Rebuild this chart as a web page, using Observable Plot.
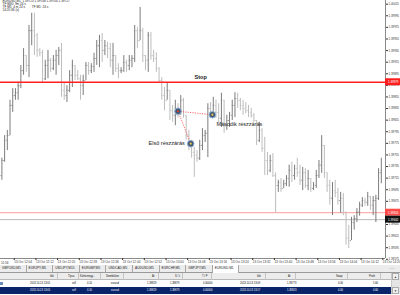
<!DOCTYPE html>
<html><head><meta charset="utf-8">
<script src="https://cdn.jsdelivr.net/npm/d3@7"></script>
<script src="https://cdn.jsdelivr.net/npm/@observablehq/plot@0.6"></script>
<style>
html,body{margin:0;padding:0;background:#fff;width:400px;height:295px;overflow:hidden;font-family:"Liberation Sans",Arial,sans-serif;}
#chart{position:absolute;left:0;top:0;width:400px;height:265px;}
#bottom{position:absolute;left:0;top:265px;width:400px;height:30px;background:#fff;}
.abs{position:absolute;white-space:nowrap;}
#tabs{position:absolute;left:0;top:0;width:400px;height:7px;background:#ececec;border-bottom:1px solid #9a9a9a;}
.tab{position:absolute;top:0;height:7px;border-right:1px solid #a8a8a8;font-size:3.2px;line-height:7px;color:#222;padding-left:2px;box-sizing:border-box;}
.tab.active{background:#fff;height:8px;}
#head{position:absolute;left:0;top:8px;width:400px;height:7px;background:#ececec;border-bottom:1px solid #b8b8b8;box-sizing:border-box;}
.row{position:absolute;left:0;width:400px;height:7px;}
.cell{position:absolute;top:0;font-size:2.6px;line-height:7px;white-space:nowrap;}
.sep{position:absolute;top:0;width:0;height:7px;border-left:1px solid #c4c4c4;}
</style></head><body>
<div id="chart"></div>
<div id="bottom">
  <div id="tabs"></div>
  <div id="head"></div>
  <div class="row" id="row1" style="top:15px;background:#fff;"></div>
  <div class="row" id="row2" style="top:22px;background:#0a246a;color:#fff;"></div>
</div>
<script>
// ---------------- DATA ----------------
const firstBar = "2013-10-13T12:00:00Z"; // EURUSD,M1, one bar per minute
const opens = [1.39718,1.39744,1.39779,1.39787,1.39839,1.39856,1.39861,1.39873,1.39899,1.39925,
1.39908,1.39968,1.39968,1.39960,1.39934,1.39930,1.39885,1.39908,1.39917,1.39903,
1.39917,1.39925,1.39934,1.39865,1.39856,1.39865,1.39891,1.39908,1.39891,1.39885,
1.39873,1.39882,1.39908,1.39899,1.39906,1.39920,1.39942,1.39951,1.39934,1.39942,
1.39937,1.39917,1.39925,1.39903,1.39899,1.39899,1.39913,1.39908,1.39917,1.39920,
1.39968,1.39951,1.39968,1.39925,1.39917,1.39960,1.39925,1.39920,1.39903,1.39882,
1.39856,1.39848,1.39865,1.39830,1.39822,1.39834,1.39827,1.39848,1.39822,1.39787,
1.39773,1.39758,1.39753,1.39748,1.39770,1.39787,1.39791,1.39834,1.39827,1.39839,
1.39827,1.39817,1.39848,1.39804,1.39813,1.39822,1.39839,1.39851,1.39848,1.39839,
1.39834,1.39830,1.39827,1.39822,1.39813,1.39779,1.39796,1.39765,1.39744,1.39727,
1.39744,1.39718,1.39701,1.39706,1.39696,1.39704,1.39713,1.39727,1.39718,1.39730,
1.39723,1.39710,1.39723,1.39701,1.39713,1.39696,1.39701,1.39718,1.39736,1.39770,
1.39723,1.39701,1.39679,1.39692,1.39689,1.39675,1.39679,1.39655,1.39610,1.39606,
1.39637,1.39644,1.39655,1.39667,1.39675,1.39672,1.39682,1.39667,1.39675,1.39679,
1.39723];
const highs = [1.39748,1.39787,1.39796,1.39848,1.39868,1.39868,1.39879,1.39908,1.39937,1.39925,
1.39977,1.39998,1.39998,1.39963,1.39937,1.39934,1.39917,1.39934,1.39920,1.39925,
1.39934,1.39939,1.39946,1.39877,1.39873,1.39899,1.39917,1.39908,1.39899,1.39891,
1.39891,1.39913,1.39913,1.39911,1.39929,1.39951,1.39960,1.39963,1.39951,1.39948,
1.39946,1.39946,1.39925,1.39911,1.39904,1.39925,1.39917,1.39925,1.39925,1.39977,
1.39973,1.40008,1.39972,1.39925,1.39965,1.39965,1.39934,1.39930,1.39904,1.39887,
1.39870,1.39877,1.39865,1.39839,1.39848,1.39842,1.39856,1.39851,1.39822,1.39796,
1.39779,1.39767,1.39761,1.39779,1.39799,1.39796,1.39842,1.39844,1.39853,1.39848,
1.39842,1.39860,1.39848,1.39822,1.39827,1.39848,1.39861,1.39860,1.39851,1.39848,
1.39844,1.39839,1.39834,1.39825,1.39813,1.39810,1.39799,1.39784,1.39758,1.39753,
1.39756,1.39723,1.39710,1.39713,1.39710,1.39718,1.39736,1.39741,1.39736,1.39748,
1.39736,1.39732,1.39730,1.39727,1.39713,1.39706,1.39727,1.39744,1.39787,1.39770,
1.39723,1.39710,1.39706,1.39710,1.39696,1.39689,1.39687,1.39655,1.39632,1.39646,
1.39649,1.39661,1.39672,1.39680,1.39679,1.39689,1.39682,1.39682,1.39684,1.39730,
1.39748];
const lows = [1.39710,1.39741,1.39761,1.39787,1.39827,1.39848,1.39848,1.39868,1.39891,1.39896,
1.39887,1.39942,1.39925,1.39922,1.39923,1.39879,1.39882,1.39885,1.39896,1.39899,
1.39891,1.39908,1.39853,1.39848,1.39844,1.39861,1.39870,1.39882,1.39882,1.39848,
1.39856,1.39882,1.39891,1.39894,1.39896,1.39908,1.39904,1.39913,1.39925,1.39920,
1.39904,1.39891,1.39896,1.39885,1.39894,1.39896,1.39896,1.39899,1.39904,1.39913,
1.39937,1.39951,1.39913,1.39899,1.39896,1.39917,1.39913,1.39896,1.39879,1.39848,
1.39830,1.39848,1.39813,1.39810,1.39804,1.39817,1.39822,1.39817,1.39779,1.39761,
1.39748,1.39715,1.39741,1.39744,1.39761,1.39775,1.39749,1.39817,1.39822,1.39817,
1.39808,1.39801,1.39791,1.39796,1.39801,1.39813,1.39818,1.39834,1.39830,1.39822,
1.39825,1.39818,1.39817,1.39810,1.39770,1.39775,1.39758,1.39718,1.39718,1.39723,
1.39715,1.39653,1.39689,1.39689,1.39696,1.39699,1.39698,1.39706,1.39710,1.39715,
1.39701,1.39692,1.39696,1.39692,1.39689,1.39692,1.39696,1.39713,1.39722,1.39713,
1.39689,1.39667,1.39649,1.39680,1.39667,1.39653,1.39649,1.39598,1.39592,1.39606,
1.39624,1.39637,1.39648,1.39663,1.39665,1.39665,1.39658,1.39649,1.39637,1.39675,
1.39704];
const closes = [1.39744,1.39779,1.39787,1.39839,1.39856,1.39861,1.39873,1.39899,1.39925,1.39908,
1.39968,1.39968,1.39960,1.39934,1.39930,1.39885,1.39908,1.39917,1.39903,1.39917,
1.39925,1.39934,1.39865,1.39856,1.39865,1.39891,1.39908,1.39891,1.39885,1.39873,
1.39882,1.39908,1.39899,1.39906,1.39920,1.39942,1.39951,1.39934,1.39942,1.39937,
1.39917,1.39925,1.39903,1.39899,1.39899,1.39913,1.39908,1.39917,1.39920,1.39968,
1.39951,1.39968,1.39925,1.39917,1.39960,1.39925,1.39920,1.39903,1.39882,1.39856,
1.39848,1.39865,1.39830,1.39822,1.39834,1.39827,1.39848,1.39822,1.39787,1.39773,
1.39758,1.39753,1.39748,1.39770,1.39787,1.39791,1.39834,1.39827,1.39839,1.39827,
1.39817,1.39848,1.39804,1.39813,1.39822,1.39839,1.39851,1.39848,1.39839,1.39834,
1.39830,1.39827,1.39822,1.39813,1.39779,1.39796,1.39765,1.39744,1.39727,1.39744,
1.39718,1.39701,1.39706,1.39696,1.39704,1.39713,1.39727,1.39718,1.39730,1.39723,
1.39710,1.39723,1.39701,1.39713,1.39696,1.39701,1.39718,1.39736,1.39770,1.39723,
1.39701,1.39679,1.39692,1.39689,1.39675,1.39679,1.39655,1.39610,1.39606,1.39637,
1.39644,1.39655,1.39667,1.39675,1.39672,1.39682,1.39667,1.39675,1.39679,1.39723,
1.39727];

const priceTicks = [1.40015,1.39995,1.39975,1.39955,1.39935,1.39915,1.39895,1.39875,1.39855,1.39835,1.39815,
  1.39795,1.39775,1.39755,1.39735,1.39715,1.39695,1.39675,1.39655,1.39635,1.39615,1.39595,1.39575];
const firstTimeLabel = "11:56";
const timeTickLabels = ["12:04","12:12","12:20","12:28","12:36","12:44","12:52","13:00","13:08",
  "13:16","13:24","13:32","13:40","13:48","13:56","14:04","14:12","14:20"];

const stopLoss = 1.39879;
const lineLevel = 1.39654;
const bidLevel = 1.39642;
const entryTime = "2013-10-13T13:05:00Z";
const entryPrice = 1.39829;
const closeTimes = ["2013-10-13T13:09:40Z","2013-10-13T13:17:40Z"];
const closePrices = [1.39773, 1.39823];
const closeLabels = ["Első részzárás", "Második részzárás"];
const infoLines = ["EURUSD,M1  1.39723 1.39748 1.39704 1.39727", "TF M30: 9m 24 s", "TF M5: 4 m 24 s        TF M1: 24 s", "14:20:36 (s)"];

const tabNames = ["GBPUSD,M5","EURJPY,M5","USDJPY,M15","EURGBP,M5","USDCAD,M5","AUDUSD,M5","EURCHF,M5","GBPJPY,M5","EURUSD,M1"];
const headers = ["Idő","Típus","Kötésmegy...","Szimbólum","Ár","S / L","T / P","Idő","Ár","Swap","Profit"];
const row1 = ["2013.10.13 13:05","sell","0.10","eurusd","1.39829","1.39879","0.00000","2013.10.13 13:09","1.39773","0.00","5.60"];
const row2 = ["2013.10.13 13:05","sell","0.10","eurusd","1.39829","1.39879","0.00000","2013.10.13 13:17","1.39823","0.00","0.60"];

// ---------------- CHART ----------------
const t0 = new Date(firstBar).getTime();
const bars = opens.map((o, i) => ({t: new Date(t0 + i * 60000), open: o, high: highs[i], low: lows[i], close: closes[i]}));
const barColor = d => d.close >= d.open ? "#7c7c7c" : "#bdbdbd";
const xStart = new Date(t0 - 31000), xEnd = new Date(t0 + 141.55 * 60000);
const timeTicks = timeTickLabels.map(s => new Date("2013-10-13T" + s + ":00Z"));
const trades = closeTimes.map((ct, i) => ({x1: new Date(entryTime), y1: entryPrice, x2: new Date(ct), y2: closePrices[i], label: closeLabels[i]}));
const points = [{t: new Date(entryTime), p: entryPrice, kind: "#e23a2a"}].concat(trades.map(d => ({t: d.x2, p: d.y2, kind: "#f0c63a"})));
const boxes = [
  {p: stopLoss, fill: "#ff1e1e"},
  {p: lineLevel, fill: "#ff4a4a"},
  {p: bidLevel, fill: "#111"}
];
const boxEnd = new Date(+xEnd + 8 * 60000);
const fmt = d3.utcFormat("%H:%M");

const chart = Plot.plot({
  width: 400, height: 265,
  marginTop: 0, marginRight: 15, marginBottom: 7, marginLeft: 0,
  style: {fontFamily: "Liberation Sans, Arial, sans-serif", background: "#fff", overflow: "visible"},
  x: {type: "utc", domain: [xStart, xEnd]},
  y: {domain: [1.39575, 1.40020]},
  marks: [
    Plot.ruleY([lineLevel], {stroke: "#ff9c9c", strokeWidth: 1}),
    Plot.ruleY([bidLevel], {stroke: "#bababa", strokeWidth: 1}),
    Plot.ruleX(bars, {x: "t", y1: "low", y2: "high", stroke: barColor, strokeWidth: 1}),
    Plot.ruleY(bars, {y: "open", x1: d => new Date(+d.t - 22000), x2: "t", stroke: barColor, strokeWidth: 0.8}),
    Plot.ruleY(bars, {y: "close", x1: "t", x2: d => new Date(+d.t + 22000), stroke: barColor, strokeWidth: 0.8}),
    Plot.ruleY([stopLoss], {stroke: "#ff2020", strokeWidth: 1.3}),
    Plot.link(trades, {x1: "x1", y1: "y1", x2: "x2", y2: "y2", stroke: "#ff4040", strokeWidth: 0.8, strokeDasharray: "1.2,1.2"}),
    Plot.dot(points, {x: "t", y: "p", r: 3.3, fill: "#3f5876", stroke: "#93b1d6", strokeWidth: 1}),
    Plot.dot(points, {x: "t", y: "p", r: 1.1, fill: "kind", stroke: "none"}),
    Plot.text([{t: new Date("2013-10-13T13:13:20Z"), p: stopLoss}], {x: "t", y: "p", text: () => "Stop", dy: -5, fontSize: 5.6, fontWeight: "bold", fill: "#222"}),
    Plot.text([trades[0]], {x: "x2", y: "y2", text: "label", textAnchor: "end", dx: -6, dy: 0, fontSize: 5.5, fill: "#222"}),
    Plot.text([trades[1]], {x: "x2", y: "y2", text: "label", textAnchor: "start", dx: 4, dy: 10, fontSize: 5.5, fill: "#222"}),
    Plot.text([infoLines.join("\n")], {frameAnchor: "top-left", text: d => d, dx: 2, dy: -1.3, fontSize: 3.1, lineHeight: 1.05, fill: "#222", textAnchor: "start"}),
    Plot.ruleX([xEnd], {stroke: "#8a8a8a"}),
    Plot.ruleY([1.39575], {stroke: "#8a8a8a"}),
    Plot.axisY({anchor: "right", ticks: priceTicks, tickFormat: d => d.toFixed(5), tickSize: 2, tickPadding: 1, fontSize: 2.9, color: "#333", dy: 0.8}),
    Plot.axisX({ticks: timeTicks, tickFormat: d => "13 Oct " + fmt(d), tickSize: 2, tickPadding: 0.3, fontSize: 3.1, textAnchor: "start", dx: 1.5, color: "#333"}),
    Plot.text([firstTimeLabel], {frameAnchor: "bottom-left", text: d => d, dx: 0.5, dy: 5.6, fontSize: 3.1, fill: "#333", textAnchor: "start"}),
    Plot.rect(boxes, {x1: xEnd, x2: boxEnd, y1: d => d.p - 0.00006, y2: d => d.p + 0.00006, fill: "fill"}),
    Plot.text(boxes, {x: xEnd, y: "p", text: d => d.p.toFixed(5), dx: 2.5, textAnchor: "start", fill: "#fff", fontSize: 2.9})
  ]
});
document.getElementById("chart").appendChild(chart);

// ---------------- TERMINAL PANEL ----------------
const tabsEl = document.getElementById("tabs");
tabNames.forEach((n, i) => {
  const d = document.createElement("div");
  d.className = "tab" + (i === tabNames.length - 1 ? " active" : "");
  d.style.left = (i * 26.6) + "px";
  d.style.width = "26.6px";
  d.textContent = n;
  tabsEl.appendChild(d);
});
const arr = document.createElement("div");
arr.className = "abs"; arr.style.cssText = "left:390px;top:0;font-size:4px;line-height:7px;color:#888;";
arr.textContent = "‹ ›"; tabsEl.appendChild(arr);

const headX = [50, 68, 80, 106, 152, 175, 202, 257, 288, 336, 369];
const dataX = [30, 72, 87, 111, 147, 170, 203, 240, 287, 338, 373];
const seps = [57, 78, 100, 123, 158, 182, 211, 265, 295, 347, 380];
const headEl = document.getElementById("head");
headers.forEach((h, i) => {
  const c = document.createElement("div"); c.className = "cell"; c.style.left = headX[i] + "px"; c.style.color = "#111"; c.textContent = h; headEl.appendChild(c);
  const s = document.createElement("div"); s.className = "sep"; s.style.left = seps[i] + "px"; headEl.appendChild(s);
});
function fillRow(el, vals) {
  vals.forEach((v, i) => {
    const c = document.createElement("div"); c.className = "cell"; c.style.left = dataX[i] + "px"; c.textContent = v; el.appendChild(c);
  });
}
fillRow(document.getElementById("row1"), row1);
fillRow(document.getElementById("row2"), row2);
// scrollbar
const sb = document.createElement("div");
sb.className = "abs"; sb.style.cssText = "left:391px;top:8px;width:8px;height:21px;background:#e4e4e4;border-left:1px solid #c8c8c8;";
document.getElementById("bottom").appendChild(sb);
[["▲", 8], ["▼", 22]].forEach(([g, top]) => {
  const b = document.createElement("div"); b.className = "abs";
  b.style.cssText = `left:392px;top:${top}px;width:7px;height:7px;background:#f0f0f0;border:0.5px solid #aaa;box-sizing:border-box;font-size:3px;line-height:7px;text-align:center;color:#333;`;
  b.textContent = g; document.getElementById("bottom").appendChild(b);
});
const ic = document.createElement("div"); ic.className = "abs";
ic.style.cssText = "left:0;top:17px;width:3px;height:3px;background:#6a8ab8;";
document.getElementById("bottom").appendChild(ic);
</script>
</body></html>
